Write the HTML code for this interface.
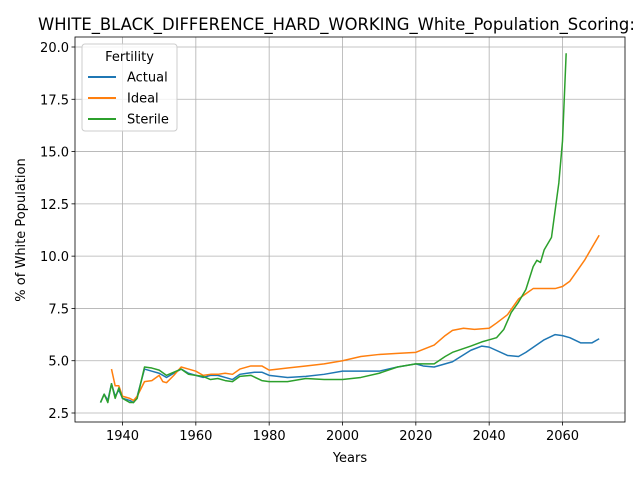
<!DOCTYPE html>
<html><head><meta charset="utf-8"><style>
html,body{margin:0;padding:0;background:#fff;overflow:hidden}
svg{display:block;font-family:"DejaVu Sans","Liberation Sans",sans-serif}
</style></head><body>
<svg id="chart" width="640" height="480">
<rect width="640" height="480" fill="#fff"/>
<text x="38" y="30" font-size="16.4" fill="#000">WHITE_BLACK_DIFFERENCE_HARD_WORKING_White_Population_Scoring:</text>
<g id="grid"></g><g id="series"></g><g id="axes"></g>
<text x="350" y="462" font-size="13" text-anchor="middle">Years</text>
<text x="0" y="0" font-size="13" text-anchor="middle" transform="translate(25,230) rotate(-90)">% of White Population</text>
<g>
<rect x="82" y="44" width="95" height="87" rx="3" fill="#fff" fill-opacity="0.8" stroke="#ccc"/>
<text x="129.5" y="61" font-size="13" text-anchor="middle">Fertility</text>
<g><line x1="88" y1="77" x2="116" y2="77" stroke="#1f77b4" stroke-width="2"/><text x="127" y="81.5" font-size="13">Actual</text></g>
<g><line x1="88" y1="98" x2="116" y2="98" stroke="#ff7f0e" stroke-width="2"/><text x="127" y="102.5" font-size="13">Ideal</text></g>
<g><line x1="88" y1="119" x2="116" y2="119" stroke="#2ca02c" stroke-width="2"/><text x="127" y="123.5" font-size="13">Sterile</text></g>
</g>
</svg>
<script>
const xTicks=[1940,1960,1980,2000,2020,2040,2060];
const yTicks=[2.5,5.0,7.5,10.0,12.5,15.0,17.5,20.0];
const actualYears=[1934,1935,1936,1937,1938,1939,1940,1942,1943,1944,1946,1948,1950,1952,1954,1956,1958,1960,1962,1964,1966,1968,1970,1972,1974,1976,1978,1980,1985,1990,1995,2000,2005,2010,2015,2020,2022,2025,2030,2035,2038,2040,2045,2048,2050,2055,2058,2060,2062,2065,2068,2070];
const actualValues=[3.0,3.4,3.1,3.9,3.3,3.6,3.2,3.1,3.0,3.3,4.6,4.5,4.4,4.2,4.4,4.6,4.4,4.3,4.2,4.3,4.3,4.2,4.1,4.35,4.4,4.45,4.45,4.3,4.2,4.25,4.35,4.5,4.5,4.5,4.7,4.85,4.75,4.7,4.95,5.5,5.7,5.65,5.25,5.2,5.4,6.0,6.25,6.2,6.1,5.85,5.85,6.05];
const idealYears=[1937,1938,1939,1940,1942,1943,1944,1946,1948,1950,1951,1952,1954,1956,1958,1960,1962,1964,1966,1968,1970,1972,1975,1978,1980,1985,1990,1995,2000,2005,2010,2015,2020,2025,2028,2030,2033,2036,2040,2042,2045,2048,2050,2052,2055,2058,2060,2062,2064,2066,2068,2070];
const idealValues=[4.6,3.8,3.8,3.3,3.2,3.1,3.3,4.0,4.05,4.3,4.0,3.95,4.3,4.7,4.6,4.5,4.3,4.35,4.35,4.4,4.35,4.6,4.75,4.75,4.55,4.65,4.75,4.85,5.0,5.2,5.3,5.35,5.4,5.75,6.2,6.45,6.55,6.5,6.55,6.8,7.2,7.95,8.2,8.45,8.45,8.45,8.55,8.8,9.3,9.8,10.4,11.0];
const sterileYears=[1934,1935,1936,1937,1938,1939,1940,1942,1943,1944,1946,1948,1950,1952,1954,1956,1958,1960,1962,1964,1966,1968,1970,1972,1975,1978,1980,1985,1990,1995,2000,2005,2010,2015,2020,2025,2028,2030,2035,2038,2040,2042,2044,2046,2048,2050,2052,2053,2054,2055,2057,2058,2059,2060,2061];
const sterileValues=[3.0,3.4,3.0,3.9,3.2,3.7,3.2,3.0,3.0,3.2,4.7,4.65,4.55,4.3,4.45,4.6,4.35,4.3,4.25,4.1,4.15,4.05,4.0,4.25,4.3,4.05,4.0,4.0,4.15,4.1,4.1,4.2,4.4,4.7,4.85,4.85,5.2,5.4,5.7,5.9,6.0,6.1,6.5,7.3,7.8,8.4,9.5,9.8,9.7,10.3,10.9,12.2,13.5,15.5,19.7];
const NS="http://www.w3.org/2000/svg";
const L=75,R=625,T=37,B=422;
function xs(v){return 122.5+(v-1940)*(562.5-122.5)/120;}
function ys(v){return 413-(v-2.5)*(413-47)/17.5;}
function mk(t,a,p){const e=document.createElementNS(NS,t);for(const k in a)e.setAttribute(k,a[k]);p.appendChild(e);return e;}
const grid=document.getElementById('grid'),axes=document.getElementById('axes'),ser=document.getElementById('series');
xTicks.forEach(v=>{const x=xs(v);
const g=mk('line',{x1:x,x2:x,y1:T,y2:B,stroke:'#b0b0b0','stroke-width':0.8},grid);

mk('line',{x1:x,x2:x,y1:B,y2:B+3.5,stroke:'#000','stroke-width':0.8},axes);
const t=mk('text',{x:x,y:B+18,'font-size':13,'text-anchor':'middle'},axes);t.textContent=v;
});
yTicks.forEach(v=>{const y=ys(v);
const g=mk('line',{x1:L,x2:R,y1:y,y2:y,stroke:'#b0b0b0','stroke-width':0.8},grid);

mk('line',{x1:L-3.5,x2:L,y1:y,y2:y,stroke:'#000','stroke-width':0.8},axes);
const t=mk('text',{x:L-6,y:y+5,'font-size':13,'text-anchor':'end'},axes);t.textContent=v.toFixed(1);
});
const fr=mk('rect',{x:L,y:T,width:R-L,height:B-T,fill:'none',stroke:'#000','stroke-width':0.8},axes);

function line(xsA,vs,c,name){const p=mk('polyline',{points:xsA.map((x,i)=>xs(x)+','+ys(vs[i])).join(' '),fill:'none',stroke:c,'stroke-width':1.5,'stroke-linejoin':'round'},ser);

}
line(actualYears,actualValues,'#1f77b4','actual-line');
line(idealYears,idealValues,'#ff7f0e','ideal-line');
line(sterileYears,sterileValues,'#2ca02c','sterile-line');
</script>
</body></html>
